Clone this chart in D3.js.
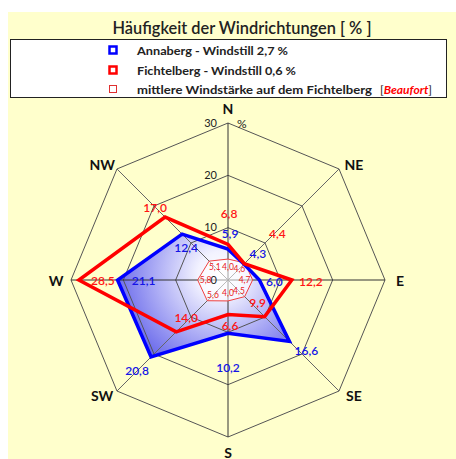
<!DOCTYPE html>
<html><head><meta charset="utf-8">
<script src="https://cdn.jsdelivr.net/npm/d3@7"></script>
<style>html,body{margin:0;padding:0;background:#fff;}svg{display:block;}</style>
</head><body>
<svg id="c" width="456" height="459"></svg>
<script>
// ---- data ----
const directions = ["N","NE","E","SE","S","SW","W","NW"];
const annaberg = [5.9, 4.3, 6.0, 16.6, 10.2, 20.8, 21.1, 12.4];
const fichtelberg = [6.8, 4.4, 12.2, 9.9, 6.6, 14.0, 28.5, 17.0];
const beaufort = [4.0, 4.6, 4.7, 4.5, 4.0, 5.6, 5.8, 5.1];
const ringTicks = [0, 10, 20, 30];
const titleText = "Häufigkeit der Windrichtungen [ % ]";
const legendTexts = ["Annaberg - Windstill 2,7 %", "Fichtelberg - Windstill 0,6 %", "mittlere Windstärke auf dem Fichtelberg"];
const fmt = v => d3.format(".1f")(v).replace(".", ",");

// ---- layout ----
const svg = d3.select("#c");
const cx = 228, cy = 280;
const r = d3.scaleLinear().domain([0, 30]).range([0, 157]);
const ang = d3.scaleBand().domain(directions).range([0, 2 * Math.PI]).align(0).paddingInner(0).paddingOuter(0);
const angleOf = d => ang(d);
const font = "Lato, 'Open Sans', sans-serif";

svg.append("rect").attr("x", 8).attr("y", 12).attr("width", 448).attr("height", 447).attr("fill", "#ffffcc");

// title
svg.append("text").attr("x", 242).attr("y", 27).attr("text-anchor", "middle").attr("dominant-baseline", "central")
  .attr("font-family", font).attr("font-size", 17).attr("font-weight", 600).attr("fill", "#222")
  .attr("textLength", 259).attr("lengthAdjust", "spacingAndGlyphs").text(titleText);

// legend box
svg.append("rect").attr("x", 10.5).attr("y", 39.5).attr("width", 436).attr("height", 58).attr("fill", "#fff").attr("stroke", "#222").attr("stroke-width", 1);
const legY = [50, 70, 89];
const legW = [151, 159, 235];
svg.append("rect").attr("x", 109.5).attr("y", legY[0] - 3.5).attr("width", 7).attr("height", 7).attr("fill", "#fff").attr("stroke", "#0000ff").attr("stroke-width", 2.5);
svg.append("rect").attr("x", 109.5).attr("y", legY[1] - 3.5).attr("width", 7).attr("height", 7).attr("fill", "#fff").attr("stroke", "#ff0000").attr("stroke-width", 2.5);
svg.append("rect").attr("x", 109.5).attr("y", legY[2] - 3.5).attr("width", 7).attr("height", 7).attr("fill", "#fff").attr("stroke", "#e03030").attr("stroke-width", 1);
legendTexts.forEach((t, i) => {
  svg.append("text").attr("x", 137).attr("y", legY[i]).attr("dominant-baseline", "central")
    .attr("font-family", font).attr("font-size", 12).attr("font-weight", 700).attr("fill", "#222")
    .attr("textLength", legW[i]).attr("lengthAdjust", "spacingAndGlyphs").text(t);
});
const bt = svg.append("text").attr("x", 380).attr("y", legY[2]).attr("dominant-baseline", "central")
  .attr("font-family", font).attr("font-size", 12).attr("fill", "#222");
bt.append("tspan").text("[");
bt.append("tspan").attr("fill", "#ff0000").attr("font-style", "italic").attr("font-weight", 700).text("Beaufort");
bt.append("tspan").text("]");

const g = svg.append("g").attr("transform", `translate(${cx},${cy})`);
const pt = (d, v) => d3.pointRadial(angleOf(d), r(v));

// gradient
const defs = svg.append("defs");
const grad = defs.append("radialGradient").attr("id", "bg").attr("gradientUnits", "userSpaceOnUse")
  .attr("cx", -8).attr("cy", -6).attr("r", 125);
grad.append("stop").attr("offset", "0%").attr("stop-color", "#ffffff");
grad.append("stop").attr("offset", "18%").attr("stop-color", "#f2f2ff");
grad.append("stop").attr("offset", "100%").attr("stop-color", "#4848e6");

const line = d3.lineRadial().angle((v, i) => angleOf(directions[i])).radius(v => r(v)).curve(d3.curveLinearClosed);

// blue area fill
g.append("path").attr("d", line(annaberg)).attr("fill", "url(#bg)");

// grid rings
ringTicks.filter(t => t > 0).forEach(t => {
  g.append("path").attr("d", line(directions.map(() => t))).attr("fill", "none").attr("stroke", "#555").attr("stroke-width", 1);
});
// spokes
directions.forEach((d, i) => {
  const p = pt(d, 30);
  g.append("line").attr("x1", 0).attr("y1", 0).attr("x2", p[0]).attr("y2", p[1])
    .attr("stroke", i % 2 === 0 ? "#333" : "#666").attr("stroke-width", 1);
});

// beaufort octagon
g.append("path").attr("d", line(beaufort)).attr("fill", "rgba(255,255,255,0.55)").attr("stroke", "#f04040").attr("stroke-width", 1);
beaufort.forEach((v, i) => {
  const p = d3.pointRadial(angleOf(directions[i]), r(v) - 8);
  g.append("text").attr("x", p[0]).attr("y", p[1]).attr("text-anchor", "middle").attr("dominant-baseline", "central")
    .attr("font-family", font).attr("font-size", 8.5).attr("fill", "#e82020").text(fmt(v));
});

// series lines
g.append("path").attr("d", line(annaberg)).attr("fill", "none").attr("stroke", "#0000ff").attr("stroke-width", 3.5).attr("stroke-linejoin", "miter");
g.append("path").attr("d", line(fichtelberg)).attr("fill", "none").attr("stroke", "#ff0000").attr("stroke-width", 3.5).attr("stroke-linejoin", "miter");

// ring tick labels
ringTicks.forEach(t => {
  g.append("text").attr("x", -11).attr("y", -r(t) - 1).attr("text-anchor", "end").attr("dominant-baseline", "central")
    .attr("font-family", font).attr("font-size", 11).attr("fill", "#222").text(t);
});
g.append("text").attr("x", 9).attr("y", -r(30)).attr("dominant-baseline", "central")
  .attr("font-family", font).attr("font-size", 12).attr("fill", "#222").text("%");

// data labels (layout offsets relative to each point)
const blueOff = [[2,-16],[14,-11],[15,1],[17,9],[0,34],[-14,14],[26,0],[4,13]];
const redOff = [[1,-31],[33,-30],[19,1],[-7,-14],[2,11],[10,-14],[24,0],[-10,-10]];
annaberg.forEach((v, i) => {
  const p = pt(directions[i], v);
  g.append("text").attr("x", p[0] + blueOff[i][0]).attr("y", p[1] + blueOff[i][1]).attr("text-anchor", "middle").attr("dominant-baseline", "central")
    .attr("font-family", font).attr("font-size", 12).attr("font-weight", 600).attr("fill", "#1414e6").text(fmt(v));
});
fichtelberg.forEach((v, i) => {
  const p = pt(directions[i], v);
  g.append("text").attr("x", p[0] + redOff[i][0]).attr("y", p[1] + redOff[i][1]).attr("text-anchor", "middle").attr("dominant-baseline", "central")
    .attr("font-family", font).attr("font-size", 12).attr("font-weight", 600).attr("fill", "#ff1414").text(fmt(v));
});

// direction labels
directions.forEach((d, i) => {
  const p = d3.pointRadial(angleOf(d), 172);
  if (i % 2 === 1) { p[0] *= 1.035; p[1] *= 0.95; }
  g.append("text").attr("x", p[0]).attr("y", p[1]).attr("text-anchor", "middle").attr("dominant-baseline", "central")
    .attr("font-family", font).attr("font-size", 14).attr("font-weight", 700).attr("fill", "#111").text(d);
});
</script>
</body></html>
